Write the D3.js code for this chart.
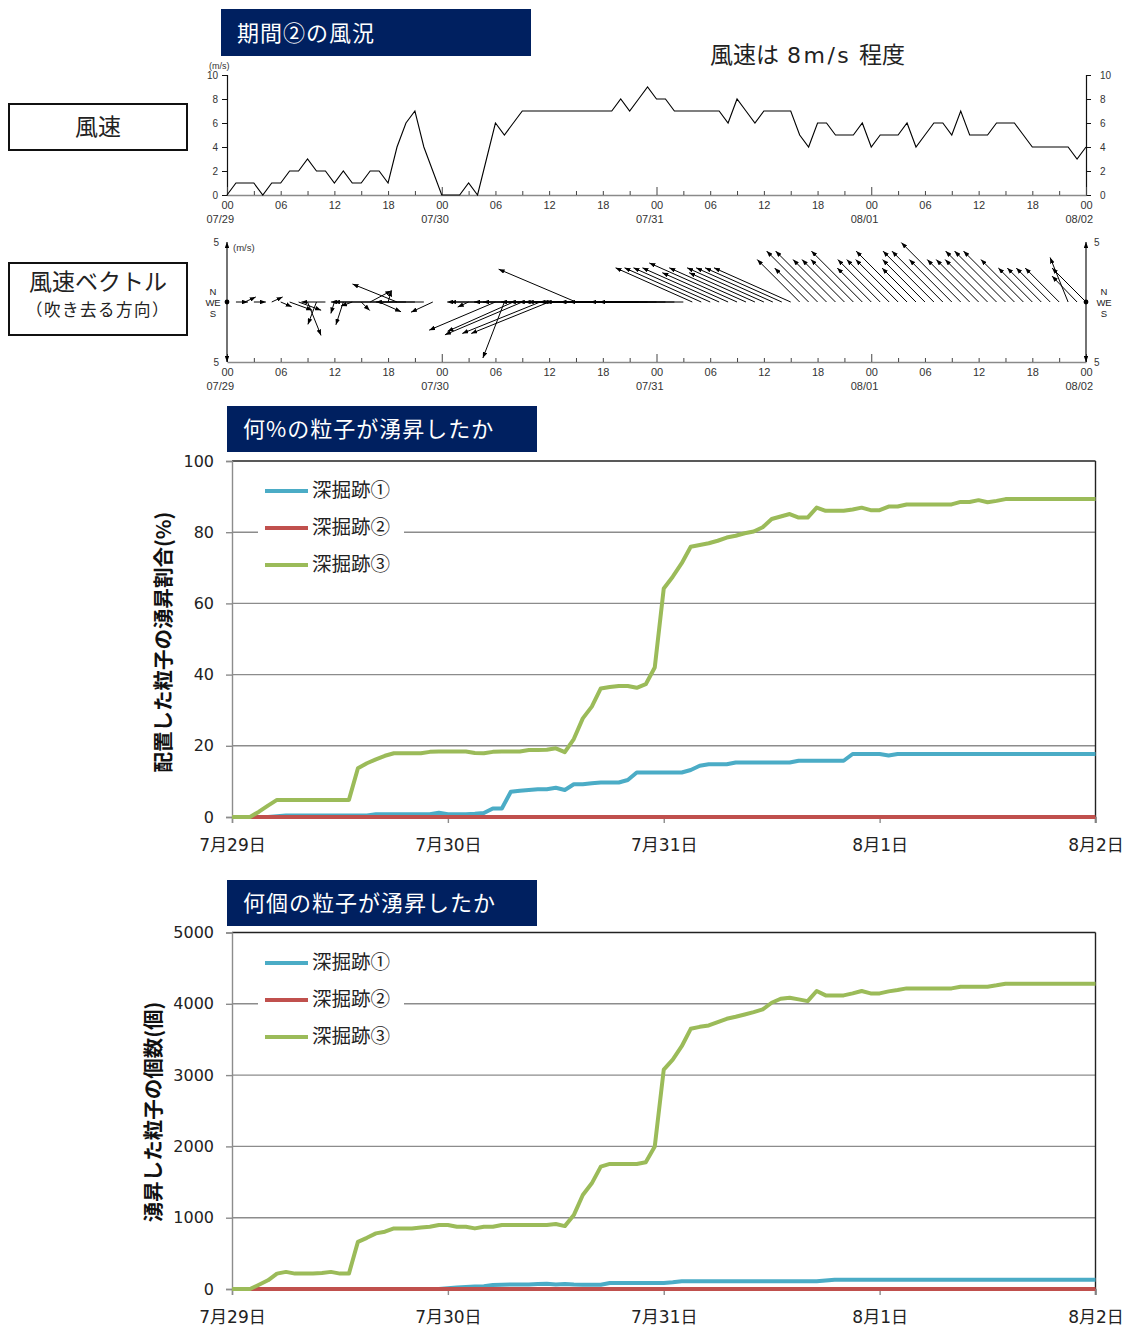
<!DOCTYPE html>
<html>
<head>
<meta charset="utf-8">
<script src="https://cdn.jsdelivr.net/npm/d3@7"></script>
<style>
  body { margin: 0; background: #fff; }
  svg { display: block; }
</style>
</head>
<body>
<svg id="chart" width="1127" height="1328"></svg>
<script>
// ---- hourly wind observations, 07/29 00:00 .. 08/02 00:00 ----
const hours = d3.range(0, 97);
const windSpeed = [
  0,1,1,1,0,1,1,2,2,3, 2,2,1,2,1,1,2,2,1,4,
  6,7,4,2,0,0,0,1,0,3, 6,5,6,7,7,7,7,7,7,7,
  7,7,7,7,8,7,8,9,8,8, 7,7,7,7,7,7,6,8,7,6,
  7,7,7,7,5,4,6,6,5,5, 5,6,4,5,5,5,6,4,5,6,
  6,5,7,5,5,5,6,6,6,5, 4,4,4,4,4,3,4
];
// direction the wind blows toward (degrees clockwise from north); null = calm
const windDir = [
  null,90,65,90,null,65,113,110,110,158,
  201,270,197,198,250,135,62,114,17,292,
  270,270,270,245,null,null,null,245,null,270,
  247,201,246,247,270,248,248,270,270,293,
  270,270,270,270,270,270,270,270,270,270,
  270,270,294,294,294,294,294,294,294,294,
  294,294,294,294,315,315,315,315,315,315,
  315,315,315,315,315,315,315,315,315,315,
  315,315,315,315,315,315,315,315,315,315,
  315,315,315,315,338,316,315
];
const hourLabels = ["00", "06", "12", "18"];
const dateLabels = ["07/29", "07/30", "07/31", "08/01", "08/02"];
const speedTicks = [0, 2, 4, 6, 8, 10];

// ---- upwelled particles per excavation trace ----
const seriesNames = ["深掘跡①", "深掘跡②", "深掘跡③"];
const seriesColors = ["#4bacc6", "#c0504d", "#9bbb59"];
const dayLabelsJa = ["7月29日", "7月30日", "7月31日", "8月1日", "8月2日"];
const pctTicks = [0, 20, 40, 60, 80, 100];
const cntTicks = [0, 1000, 2000, 3000, 4000, 5000];

const pctSite1 = [
  0,0,0,0,0,0.2,0.4,0.4,0.4,0.4,0.4,0.4,
  0.4,0.4,0.4,0.4,0.75,0.75,0.75,0.75,0.75,0.75,0.75,1.2,
  0.75,0.75,0.8,0.9,1.1,2.4,2.4,7.1,7.4,7.6,7.8,7.8,
  8.2,7.6,9.2,9.2,9.5,9.7,9.7,9.7,10.4,12.5,12.5,12.5,
  12.5,12.5,12.5,13.2,14.4,14.8,14.8,14.8,15.3,15.3,15.3,15.3,
  15.3,15.3,15.3,15.8,15.8,15.8,15.8,15.8,15.8,17.7,17.7,17.7,
  17.7,17.3,17.7,17.7,17.7,17.7,17.7,17.7,17.7,17.7,17.7,17.7,
  17.7,17.7,17.7,17.7,17.7,17.7,17.7,17.7,17.7,17.7,17.7,17.7,
  17.7
];
const pctSite2 = [
  0,0,0,0,0,0,0,0,0,0,0,0, 0,0,0,0,0,0,0,0,0,0,0,0,
  0,0,0,0,0,0,0,0,0,0,0,0, 0,0,0,0,0,0,0,0,0,0,0,0,
  0,0,0,0,0,0,0,0,0,0,0,0, 0,0,0,0,0,0,0,0,0,0,0,0,
  0,0,0,0,0,0,0,0,0,0,0,0, 0,0,0,0,0,0,0,0,0,0,0,0,
  0
];
const pctSite3 = [
  0,0,0,1.5,3.2,4.8,4.8,4.8,4.8,4.8,4.8,4.8,
  4.8,4.8,13.7,15.1,16.2,17.2,17.9,17.9,17.9,17.9,18.3,18.4,
  18.4,18.4,18.4,18.0,17.9,18.3,18.4,18.4,18.4,18.8,18.8,18.9,
  19.3,18.2,21.9,27.7,31.0,36.1,36.5,36.8,36.8,36.3,37.3,42.0,
  64.2,67.5,71.3,75.9,76.4,76.9,77.6,78.5,79.0,79.7,80.2,81.4,
  83.7,84.4,85.1,84.1,84.1,86.9,86.0,86.0,86.0,86.4,86.9,86.2,
  86.2,87.2,87.2,87.8,87.8,87.8,87.8,87.8,87.8,88.5,88.5,89.0,
  88.4,88.8,89.3,89.3,89.3,89.3,89.3,89.3,89.3,89.3,89.3,89.3,
  89.3
];
const cntSite1 = [
  0,0,0,0,0,0,0,0,0,0,0,0, 0,0,0,0,0,0,0,0,0,0,0,0,
  10,20,28,35,40,55,60,62,62,62,70,75,
  62,70,62,60,60,60,85,85,85,85,85,85,
  85,95,108,108,108,108,108,108,108,108,108,108,
  108,108,108,108,108,108,120,131,131,131,131,131,
  131,131,131,131,131,131,131,131,131,131,131,131,
  131,131,131,131,131,131,131,131,131,131,131,131,
  131
];
const cntSite2 = [
  0,0,0,0,0,0,0,0,0,0,0,0, 0,0,0,0,0,0,0,0,0,0,0,0,
  0,0,0,0,0,0,0,0,0,0,0,0, 0,0,0,0,0,0,0,0,0,0,0,0,
  0,0,0,0,0,0,0,0,0,0,0,0, 0,0,0,0,0,0,0,0,0,0,0,0,
  0,0,0,0,0,0,0,0,0,0,0,0, 0,0,0,0,0,0,0,0,0,0,0,0,
  0
];
const cntSite3 = [
  0,0,0,60,122,216,240,216,216,216,225,240,
  216,216,662,718,780,803,850,850,850,864,873,897,
  897,873,873,850,873,873,897,897,897,897,897,897,
  911,882,1037,1318,1482,1717,1754,1754,1754,1754,1778,2000,
  3077,3217,3405,3649,3677,3696,3743,3790,3818,3850,3883,3921,
  4015,4071,4085,4062,4038,4179,4118,4118,4118,4146,4179,4146,
  4146,4174,4193,4216,4216,4216,4216,4216,4216,4240,4240,4240,
  4240,4259,4282,4282,4282,4282,4282,4282,4282,4282,4282,4282,
  4282
];

const SANS = "'Liberation Sans', Arial, sans-serif";
const JP = "'Noto Sans CJK JP', sans-serif";
const NUMJP = "'DejaVu Sans', 'Noto Sans CJK JP', sans-serif";

const svg = d3.select("#chart");

// arrowhead marker
const defs = svg.append("defs");
defs.append("marker")
  .attr("id", "ah").attr("viewBox", "0 0 10 10")
  .attr("refX", 10).attr("refY", 5)
  .attr("markerWidth", 6).attr("markerHeight", 4.6)
  .attr("markerUnits", "userSpaceOnUse")
  .attr("preserveAspectRatio", "none")
  .attr("orient", "auto-start-reverse")
  .append("path").attr("d", "M0,0L10,5L0,10Z").attr("fill", "#000");

// ---------- header labels ----------
function navyTitle(x, y, w, h, text) {
  svg.append("rect").attr("x", x).attr("y", y).attr("width", w).attr("height", h).attr("fill", "#002060");
  svg.append("text").attr("x", x + 16).attr("y", y + h / 2 + 8)
    .attr("font-family", JP).attr("font-size", 22).attr("letter-spacing", 1)
    .attr("fill", "#fff").text(text);
}
navyTitle(221, 9, 310, 47, "期間②の風況");

const note = svg.append("text").attr("y", 63).attr("font-family", JP)
  .attr("font-size", 23).attr("fill", "#222");
note.append("tspan").attr("x", 710).text("風速は");
note.append("tspan").attr("x", 787).attr("font-family", "'DejaVu Sans', sans-serif")
  .attr("font-size", 22).attr("letter-spacing", 2.5).text("8m/s");
note.append("tspan").attr("x", 859).text("程度");

svg.append("rect").attr("x", 9).attr("y", 104).attr("width", 178).attr("height", 46)
  .attr("fill", "none").attr("stroke", "#111").attr("stroke-width", 2);
svg.append("text").attr("x", 98).attr("y", 135).attr("text-anchor", "middle")
  .attr("font-family", JP).attr("font-size", 23).attr("fill", "#222").text("風速");

svg.append("rect").attr("x", 9).attr("y", 263).attr("width", 178).attr("height", 72)
  .attr("fill", "none").attr("stroke", "#111").attr("stroke-width", 2);
svg.append("text").attr("x", 98).attr("y", 290).attr("text-anchor", "middle")
  .attr("font-family", JP).attr("font-size", 23).attr("fill", "#222").text("風速ベクトル");
svg.append("text").attr("x", 98).attr("y", 316).attr("text-anchor", "middle")
  .attr("font-family", JP).attr("font-size", 16.5).attr("letter-spacing", 1.5)
  .attr("fill", "#222").text("（吹き去る方向）");

// ---------- wind speed & vector panels ----------
const xW = d3.scaleLinear().domain([0, 96]).range([227, 1086]);
const ySpd = d3.scaleLinear().domain([0, 10]).range([195, 75]);
const yVec = d3.scaleLinear().domain([-5, 5]).range([362, 242]);
const vLen = d3.scaleLinear().domain([0, 5]).range([0, yVec(0) - yVec(5)]);

function timeAxis(y0) {
  const g = svg.append("g").attr("transform", `translate(0,${y0})`)
    .call(d3.axisBottom(xW).tickValues(d3.range(0, 97, 3)).tickSize(0)
      .tickFormat(h => h % 6 === 0 ? hourLabels[(h % 24) / 6] : ""));
  g.select(".domain").attr("stroke", "#8a8a8a").attr("stroke-width", 1.6);
  g.selectAll(".tick line").attr("stroke", "#444").attr("stroke-width", 1)
    .attr("y2", h => h % 24 === 0 ? -8 : -4);
  g.selectAll(".tick text").attr("y", 14).attr("dy", null)
    .attr("font-family", SANS).attr("font-size", 11).attr("fill", "#333");
  g.selectAll(".date").data(d3.range(0, 97, 24)).join("text")
    .attr("x", h => xW(h) + 7).attr("y", 28).attr("text-anchor", "end")
    .attr("font-family", SANS).attr("font-size", 11).attr("fill", "#333")
    .text((h, i) => dateLabels[i]);
}

// speed panel
const gl = svg.append("g").attr("transform", `translate(${xW(0)},0)`)
  .call(d3.axisLeft(ySpd).tickValues(speedTicks).tickSize(5).tickPadding(4));
const gr = svg.append("g").attr("transform", `translate(${xW(96)},0)`)
  .call(d3.axisRight(ySpd).tickValues(speedTicks).tickSize(5).tickPadding(9));
[gl, gr].forEach(g => {
  g.select(".domain").attr("stroke", "#111").attr("stroke-width", 1.2);
  g.selectAll(".tick line").attr("stroke", "#111");
  g.selectAll(".tick text").attr("font-family", SANS).attr("font-size", 10).attr("fill", "#333");
});
timeAxis(195);
svg.append("text").attr("x", 209).attr("y", 69).attr("font-family", SANS)
  .attr("font-size", 9).attr("fill", "#333").text("(m/s)");
svg.append("path").datum(hours)
  .attr("d", d3.line().x(h => xW(h)).y(h => ySpd(windSpeed[h])))
  .attr("fill", "none").attr("stroke", "#000").attr("stroke-width", 1.1)
  .attr("stroke-linejoin", "miter");

// vector panel
timeAxis(362);
[xW(0), xW(96)].forEach((x, i) => {
  svg.append("line").attr("x1", x).attr("x2", x).attr("y1", yVec(0)).attr("y2", yVec(5))
    .attr("stroke", "#000").attr("stroke-width", 1.1).attr("marker-end", "url(#ah)");
  svg.append("line").attr("x1", x).attr("x2", x).attr("y1", yVec(0)).attr("y2", yVec(-5))
    .attr("stroke", "#000").attr("stroke-width", 1.1).attr("marker-end", "url(#ah)");
  svg.append("circle").attr("cx", x).attr("cy", yVec(0)).attr("r", 2.4).attr("fill", "#000");
  const cx = i === 0 ? x - 14 : x + 18;
  const lab = (t, dx, y) => svg.append("text").attr("x", cx + dx).attr("y", y)
    .attr("text-anchor", "middle").attr("font-family", SANS).attr("font-size", 9.5)
    .attr("fill", "#222").text(t);
  lab("N", 0, 295); lab("W", -3, 305.5); lab("E", 4.5, 305.5); lab("S", 0, 316.5);
  const nx = i === 0 ? x - 8 : x + 8;
  const anchor = i === 0 ? "end" : "start";
  svg.append("text").attr("x", nx).attr("y", yVec(5) + 4).attr("text-anchor", anchor)
    .attr("font-family", SANS).attr("font-size", 10).attr("fill", "#333").text("5");
  svg.append("text").attr("x", nx).attr("y", yVec(-5) + 4).attr("text-anchor", anchor)
    .attr("font-family", SANS).attr("font-size", 10).attr("fill", "#333").text("5");
});
svg.append("text").attr("x", 233).attr("y", 251).attr("font-family", SANS)
  .attr("font-size", 9.5).attr("fill", "#333").text("(m/s)");

const vecs = hours.filter(h => windDir[h] !== null && windSpeed[h] > 0);
svg.append("g").selectAll("line").data(vecs).join("line")
  .attr("x1", h => xW(h)).attr("y1", yVec(0))
  .attr("x2", h => xW(h) + vLen(windSpeed[h]) * Math.sin(windDir[h] * Math.PI / 180))
  .attr("y2", h => yVec(0) - vLen(windSpeed[h]) * Math.cos(windDir[h] * Math.PI / 180))
  .attr("stroke", "#000").attr("stroke-width", 1)
  .attr("marker-end", "url(#ah)");

// ---------- particle upwelling panels ----------
const xP = d3.scaleLinear().domain([0, 96]).range([232, 1095.5]);

function particlePanel(opt) {
  const { top, bottom, yMax, ticks, series, title, titleY, legendTop, yTitle, yTitleY } = opt;
  const y = d3.scaleLinear().domain([0, yMax]).range([bottom, top]);

  navyTitle(227, titleY, 310, 46, title);

  // gridlines
  svg.append("g").selectAll("line").data(ticks.slice(1, -1)).join("line")
    .attr("x1", xP(0)).attr("x2", xP(96)).attr("y1", d => y(d)).attr("y2", d => y(d))
    .attr("stroke", "#8c8c8c").attr("stroke-width", 1.4);
  // frame top/right
  svg.append("line").attr("x1", xP(0)).attr("x2", xP(96)).attr("y1", y(yMax)).attr("y2", y(yMax))
    .attr("stroke", "#222").attr("stroke-width", 1.4);
  svg.append("line").attr("x1", xP(96)).attr("x2", xP(96)).attr("y1", y(yMax)).attr("y2", y(0) + 6)
    .attr("stroke", "#222").attr("stroke-width", 1.4);

  const ga = svg.append("g").attr("transform", `translate(${xP(0)},0)`)
    .call(d3.axisLeft(y).tickValues(ticks).tickSize(6).tickPadding(12).tickFormat(d3.format("d")));
  ga.select(".domain").attr("stroke", "#8c8c8c").attr("stroke-width", 1.4);
  ga.selectAll(".tick line").attr("stroke", "#8c8c8c").attr("stroke-width", 1.4);
  ga.selectAll(".tick text").attr("font-family", NUMJP).attr("font-size", 16).attr("fill", "#222");

  const gb = svg.append("g").attr("transform", `translate(0,${bottom})`)
    .call(d3.axisBottom(xP).tickValues([0, 24, 48, 72, 96]).tickSize(6).tickPadding(16)
      .tickFormat((h, i) => dayLabelsJa[i]));
  gb.select(".domain").attr("stroke", "#8c8c8c").attr("stroke-width", 1.4);
  gb.selectAll(".tick line").attr("stroke", "#8c8c8c").attr("stroke-width", 1.4);
  gb.selectAll(".tick text").attr("font-family", NUMJP).attr("font-size", 17).attr("fill", "#222");

  svg.append("text")
    .attr("transform", `translate(${opt.yTitleX},${yTitleY}) rotate(-90)`)
    .attr("text-anchor", "middle").attr("font-family", JP).attr("font-weight", "bold")
    .attr("font-size", 20.5).attr("fill", "#111").text(yTitle);

  const line = d3.line().x((v, i) => xP(hours[i])).y(v => y(v));
  series.forEach((vals, k) => {
    svg.append("path").datum(vals).attr("d", line)
      .attr("fill", "none").attr("stroke", seriesColors[k]).attr("stroke-width", 4)
      .attr("stroke-linejoin", "round");
  });

  // legend
  svg.append("rect").attr("x", 258).attr("y", legendTop).attr("width", 146).attr("height", 112)
    .attr("fill", "#fff");
  seriesNames.forEach((name, k) => {
    const ly = legendTop + 21 + k * 37;
    svg.append("line").attr("x1", 265).attr("x2", 308).attr("y1", ly).attr("y2", ly)
      .attr("stroke", seriesColors[k]).attr("stroke-width", 4);
    svg.append("text").attr("x", 312).attr("y", ly + 6).attr("font-family", JP)
      .attr("font-size", 19.5).attr("fill", "#222").text(name);
  });
}

particlePanel({
  top: 461, bottom: 817, yMax: 100, ticks: pctTicks,
  series: [pctSite1, pctSite2, pctSite3],
  title: "何%の粒子が湧昇したか", titleY: 406, legendTop: 470,
  yTitle: "配置した粒子の湧昇割合(%)", yTitleX: 171, yTitleY: 642
});
particlePanel({
  top: 932.5, bottom: 1289, yMax: 5000, ticks: cntTicks,
  series: [cntSite1, cntSite2, cntSite3],
  title: "何個の粒子が湧昇したか", titleY: 880, legendTop: 942,
  yTitle: "湧昇した粒子の個数(個)", yTitleX: 161, yTitleY: 1112
});
</script>
</body>
</html>
